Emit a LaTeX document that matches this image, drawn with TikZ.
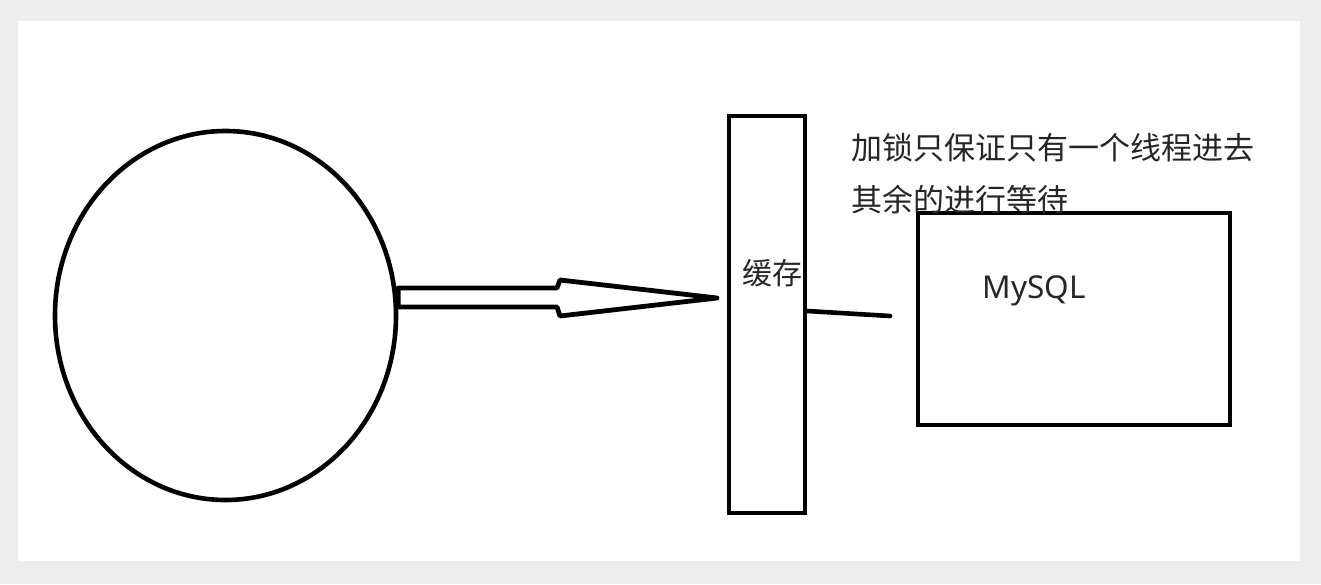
\documentclass[tikz,border=0pt]{standalone}
\usepackage{fontspec}
\newfontfamily\cjk{Noto Sans CJK SC}
\newfontfamily\latf{Noto Sans}
\usetikzlibrary{shapes.geometric}
\begin{document}
\begin{tikzpicture}[x=1pt,y=-1pt,
  stroke/.style={draw=black,line width=4.6pt},
  boxnode/.style={stroke,rectangle,inner sep=0pt,fill=white},
  cjktext/.style={font=\cjk\fontsize{31}{36}\selectfont,inner sep=0pt,text=black!85},
]
\useasboundingbox (0,0) rectangle (1321,584);
\fill[black!7] (0,0) rectangle (1321,584);
\fill[white] (18,21) rectangle (1300,561);

\node[stroke,ellipse,minimum width=341pt,minimum height=369pt,inner sep=0pt] (client) at (225.5,315.5) {};

\node[boxnode,minimum width=76pt,minimum height=397pt] (cache) at (767,314.5) {};
\node[cjktext,font=\cjk\fontsize{30}{34}\selectfont] (cachelabel) at (772,273) {缓存};

\node[boxnode,minimum width=312pt,minimum height=212pt] (mysql) at (1074,319) {};
\node[font=\latf\fontsize{31.5}{36}\selectfont,inner sep=0pt,text=black!85] (mysqllabel) at (1034,291) {MySQL};

\node[cjktext,anchor=west] (note1) at (851,148) {加锁只保证只有一个线程进去};
\node[cjktext,anchor=west] (note2) at (851,200) {其余的进行等待};

% hollow arrow from client to cache
\coordinate (tip) at (717,298);
\draw[stroke,line width=4.8pt,line join=round]
  (client.east |- 0,288) -- (557,288) -- (560,280) -- (tip) -- (560,316) -- (557,307) -- (client.east |- 0,307) -- cycle;

\coordinate (lineend) at (890,316);
\draw[stroke,line width=4.6pt,line cap=round] (cache.east |- 0,311) -- (lineend);
\end{tikzpicture}
\end{document}
